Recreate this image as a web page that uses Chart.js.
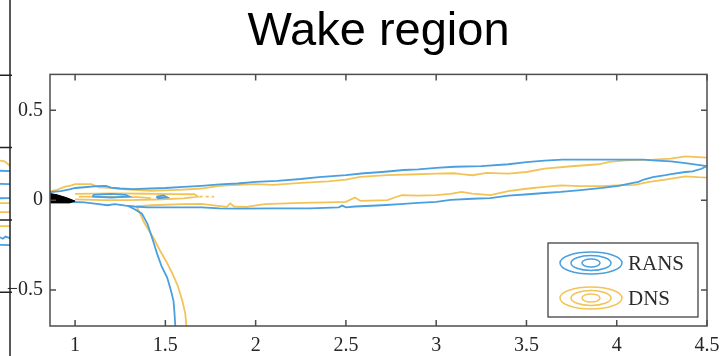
<!DOCTYPE html>
<html>
<head>
<meta charset="utf-8">
<script src="https://cdn.jsdelivr.net/npm/chart.js@4"></script>
<style>
  html, body { margin: 0; padding: 0; background: #fff; }
  #wrap { position: relative; width: 721px; height: 356px; }
  #main { position: absolute; left: 0; top: 0; }
  #side { position: absolute; left: 0; top: 0; }
</style>
</head>
<body>
<div id="wrap">
  <canvas id="main" width="721" height="356"></canvas>
  <canvas id="side" width="14" height="356"></canvas>
</div>
<script>
// axis ticks
const xTicks = [1, 1.5, 2, 2.5, 3, 3.5, 4, 4.5];
const xTickLabels = ['1', '1.5', '2', '2.5', '3', '3.5', '4', '4.5'];
const yTicks = [-0.5, 0, 0.5];
const yTickLabels = ['\u22120.5', '0', '0.5'];
const legendLabels = ['RANS', 'DNS'];

// RANS contours (x, y)
const ransOuter = [[0.862,0.045],[0.92,0.05],[0.97,0.06],[1.0,0.068],[1.05,0.072],[1.12,0.078],[1.17,0.08],[1.2,0.07],[1.25,0.065],
  [1.32,0.062],[1.42,0.065],[1.5,0.068],[1.6,0.074],[1.7,0.08],[1.8,0.088],[1.9,0.093],[2.0,0.102],[2.12,0.108],[2.25,0.118],
  [2.35,0.128],[2.5,0.139],[2.6,0.15],[2.7,0.157],[2.82,0.168],[2.9,0.172],[3.0,0.18],[3.1,0.186],[3.25,0.19],[3.4,0.2],
  [3.5,0.212],[3.6,0.22],[3.7,0.226],[3.9,0.226],[4.15,0.226],[4.2,0.222],[4.3,0.216],[4.38,0.206],[4.45,0.197],[4.5,0.19],
  [4.47,0.175],[4.42,0.16],[4.38,0.157],[4.3,0.145],[4.27,0.139],[4.2,0.128],[4.15,0.115],[4.12,0.102],[4.07,0.092],[4.01,0.08],
  [3.92,0.068],[3.8,0.056],[3.69,0.046],[3.6,0.04],[3.51,0.033],[3.4,0.025],[3.3,0.012],[3.2,0.008],[3.08,0.002],[3.0,-0.009],
  [2.9,-0.015],[2.8,-0.022],[2.7,-0.028],[2.55,-0.035],[2.5,-0.04],[2.48,-0.03],[2.46,-0.04],[2.3,-0.045],[2.1,-0.046],
  [1.9,-0.047],[1.8,-0.046],[1.7,-0.04],[1.55,-0.04],[1.4,-0.04],[1.33,-0.035],[1.28,-0.03],[1.22,-0.022],[1.18,-0.028],
  [1.12,-0.02],[1.05,-0.012],[1.0,-0.01],[0.95,-0.005],[0.9,0.0],[0.862,0.005]];
const ransBranch = [[1.29,-0.03],[1.33,-0.05],[1.37,-0.075],[1.40,-0.13],[1.43,-0.22],[1.455,-0.30],[1.48,-0.37],
  [1.51,-0.43],[1.53,-0.5],[1.545,-0.56],[1.55,-0.62],[1.555,-0.7]];
const ransInner = [[1.1,0.03],[1.2,0.035],[1.28,0.03],[1.3,0.02],[1.2,0.015],[1.1,0.02],[1.1,0.03]];
const ransBlob = [[1.45,0.02],[1.49,0.026],[1.51,0.016],[1.46,0.011],[1.45,0.02]];

// DNS contours (x, y)
const dnsUpper = [[0.862,0.05],[0.9,0.058],[0.94,0.074],[0.98,0.082],[1.0,0.089],[1.09,0.089],[1.13,0.072],[1.17,0.07],
  [1.22,0.066],[1.28,0.06],[1.35,0.056],[1.42,0.052],[1.6,0.059],[1.7,0.065],[1.79,0.078],[1.84,0.083],[2.0,0.089],
  [2.1,0.085],[2.25,0.096],[2.4,0.105],[2.5,0.115],[2.58,0.13],[2.73,0.139],[2.85,0.143],[3.0,0.148],[3.1,0.15],
  [3.14,0.145],[3.2,0.139],[3.28,0.152],[3.4,0.148],[3.5,0.157],[3.6,0.176],[3.75,0.189],[3.9,0.2],[3.96,0.213],
  [4.05,0.222],[4.2,0.226],[4.3,0.231],[4.38,0.244],[4.45,0.24],[4.5,0.237]];
const dnsLower = [[1.34,-0.035],[1.42,-0.028],[1.6,-0.022],[1.7,-0.02],[1.78,-0.03],[1.84,-0.037],[1.86,-0.018],
  [1.88,-0.035],[1.95,-0.037],[2.05,-0.022],[2.25,-0.015],[2.4,-0.012],[2.5,-0.009],[2.55,0.015],[2.58,-0.004],
  [2.73,0.0],[2.77,0.015],[2.81,0.028],[2.9,0.025],[3.0,0.028],[3.08,0.035],[3.14,0.046],[3.2,0.037],[3.3,0.028],
  [3.4,0.05],[3.51,0.065],[3.6,0.074],[3.69,0.083],[3.8,0.078],[3.92,0.078],[4.0,0.083],[4.1,0.085],[4.18,0.102],
  [4.27,0.115],[4.38,0.133],[4.45,0.128],[4.5,0.126]];
const dnsBranch = [[1.34,-0.035],[1.36,-0.074],[1.38,-0.12],[1.41,-0.17],[1.44,-0.22],[1.47,-0.28],[1.51,-0.35],
  [1.54,-0.41],[1.57,-0.48],[1.594,-0.56],[1.61,-0.63],[1.617,-0.7]];
const dnsInnerA = [[1.0,0.035],[1.2,0.038],[1.4,0.036],[1.55,0.034],[1.66,0.033],[1.68,0.02],[1.6,0.01],
  [1.45,0.004],[1.3,0.0],[1.15,0.0],[1.0,0.005]];
const dnsInnerB = [[1.02,0.02],[1.2,0.018],[1.35,0.017],[1.42,0.012]];
const dnsDash = [[1.69,0.02],[1.77,0.02]];

// body trailing edge (filled)
const bodyEdge = [[0.862,0.037],[0.9,0.03],[0.95,0.015],[1.0,-0.005],[0.97,-0.015],[0.862,-0.015]];

// neighbouring panel (cropped at left)
const sideTicks = [1, 0.5, 0, -0.5];
const sideRans = [[4.444,0.34],[4.5,0.337],null,[4.444,0.25],[4.5,0.247],null,[4.444,0.15],[4.5,0.151],null,
  [4.444,-0.12],[4.46,-0.13],[4.475,-0.115],[4.5,-0.126],null,[4.444,-0.172],[4.5,-0.174]];
const sideDns = [[4.444,0.41],[4.47,0.405],[4.49,0.385],[4.5,0.372],null,[4.444,0.116],[4.5,0.116],null,
  [4.444,0.054],[4.5,0.054],null,[4.444,-0.043],[4.5,-0.043]];

const BLUE = '#4a9fdf';
const YELLOW = '#f2c457';

const pts = arr => arr.map(p => p ? { x: p[0], y: p[1] } : { x: null, y: null });

function contour(data, color, extra) {
  return Object.assign({
    data: pts(data), borderColor: color, backgroundColor: color,
    showLine: true, pointRadius: 0, borderWidth: 1.8, fill: false, tension: 0
  }, extra || {});
}

// box, inward ticks and legend
const frame = {
  id: 'frame',
  afterDatasetsDraw(chart) {
    const ctx = chart.ctx, a = chart.chartArea;
    const xs = chart.scales.x, ys = chart.scales.y;
    ctx.save();
    ctx.strokeStyle = '#4d4d4d';
    ctx.lineWidth = 1.5;
    ctx.strokeRect(a.left, a.top, a.right - a.left, a.bottom - a.top);
    ctx.beginPath();
    xTicks.forEach(v => {
      const px = xs.getPixelForValue(v);
      ctx.moveTo(px, a.bottom); ctx.lineTo(px, a.bottom - 6);
      ctx.moveTo(px, a.top); ctx.lineTo(px, a.top + 6);
    });
    yTicks.forEach(v => {
      const py = ys.getPixelForValue(v);
      ctx.moveTo(a.left, py); ctx.lineTo(a.left + 6, py);
      ctx.moveTo(a.right, py); ctx.lineTo(a.right - 6, py);
    });
    ctx.stroke();

    // legend
    const w = 150, h = 74;
    const bx = a.right - 9 - w, by = a.bottom - 9 - h;
    ctx.fillStyle = '#fff';
    ctx.fillRect(bx, by, w, h);
    ctx.strokeStyle = '#333';
    ctx.lineWidth = 1.2;
    ctx.strokeRect(bx, by, w, h);
    [BLUE, YELLOW].forEach((c, i) => {
      const cx = bx + 43, cy = by + 20 + i * 35;
      ctx.strokeStyle = c;
      ctx.lineWidth = 1.5;
      [[31, 11], [20, 7.5], [9, 4]].forEach(r => {
        ctx.beginPath();
        ctx.ellipse(cx, cy, r[0], r[1], 0, 0, Math.PI * 2);
        ctx.stroke();
      });
      ctx.fillStyle = '#2b2b2b';
      ctx.font = '21px "Liberation Serif"';
      ctx.textBaseline = 'middle';
      ctx.textAlign = 'left';
      ctx.fillText(legendLabels[i], bx + 80, cy + 1);
    });
    ctx.restore();
  }
};

new Chart(document.getElementById('main'), {
  type: 'scatter',
  data: {
    datasets: [
      contour(bodyEdge, '#000', { fill: 'shape', backgroundColor: '#000', borderWidth: 1 }),
      contour(ransOuter, BLUE, { label: 'RANS' }),
      contour(ransBranch, BLUE),
      contour(ransInner, BLUE),
      contour(ransBlob, BLUE),
      contour(dnsUpper, YELLOW, { label: 'DNS' }),
      contour(dnsLower, YELLOW),
      contour(dnsBranch, YELLOW),
      contour(dnsInnerA, YELLOW),
      contour(dnsInnerB, YELLOW),
      contour(dnsDash, YELLOW, { borderDash: [3, 3] })
    ]
  },
  options: {
    responsive: false,
    animation: false,
    devicePixelRatio: 1,
    layout: { padding: { left: 0, right: 14, top: 0, bottom: 0 } },
    plugins: {
      legend: { display: false },
      tooltip: { enabled: false },
      title: {
        display: true,
        text: 'Wake region',
        fullSize: false,
        color: '#000',
        font: { family: 'Liberation Sans', size: 47, weight: 'normal' },
        padding: { top: 4, bottom: 14 }
      }
    },
    scales: {
      x: {
        type: 'linear', min: 0.861, max: 4.5,
        grid: { display: false, drawTicks: false, tickLength: 0 }, border: { display: false },
        afterBuildTicks: s => { s.ticks = xTicks.map(v => ({ value: v })); },
        afterFit: s => { s.height = 30; s.paddingLeft = 0; s.paddingRight = 0; },
        ticks: {
          autoSkip: false, maxRotation: 0, padding: 8, color: '#262626',
          font: { family: 'Liberation Serif', size: 20 },
          callback: (v, i) => xTickLabels[i]
        }
      },
      y: {
        type: 'linear', min: -0.7, max: 0.7,
        grid: { display: false, drawTicks: false, tickLength: 0 }, border: { display: false },
        afterBuildTicks: s => { s.ticks = yTicks.map(v => ({ value: v })); },
        afterFit: s => { s.width = 50; s.paddingTop = 0; s.paddingBottom = 0; },
        ticks: {
          autoSkip: false, padding: 7, color: '#262626',
          font: { family: 'Liberation Serif', size: 20 },
          callback: (v, i) => yTickLabels[i]
        }
      }
    }
  },
  plugins: [frame]
});

// right edge of the neighbouring panel
const sideFrame = {
  id: 'sideFrame',
  afterDatasetsDraw(chart) {
    const ctx = chart.ctx, a = chart.chartArea, ys = chart.scales.y;
    ctx.save();
    ctx.strokeStyle = '#222';
    ctx.lineWidth = 1.5;
    ctx.beginPath();
    ctx.moveTo(a.right, 0); ctx.lineTo(a.right, chart.height);
    sideTicks.forEach(v => {
      const py = ys.getPixelForValue(v);
      ctx.moveTo(a.right + 2, py); ctx.lineTo(a.left, py);
    });
    ctx.stroke();
    ctx.restore();
  }
};

new Chart(document.getElementById('side'), {
  type: 'scatter',
  data: {
    datasets: [
      contour(sideRans, BLUE, { spanGaps: false }),
      contour(sideDns, YELLOW, { spanGaps: false })
    ]
  },
  options: {
    responsive: false,
    animation: false,
    devicePixelRatio: 1,
    layout: { padding: { left: 0, right: 4, top: 0, bottom: 0 } },
    plugins: { legend: { display: false }, tooltip: { enabled: false }, title: { display: false } },
    scales: {
      x: { display: false, min: 4.444, max: 4.5 },
      y: { display: false, min: -0.94, max: 1.52 }
    }
  },
  plugins: [sideFrame]
});
</script>
</body>
</html>
